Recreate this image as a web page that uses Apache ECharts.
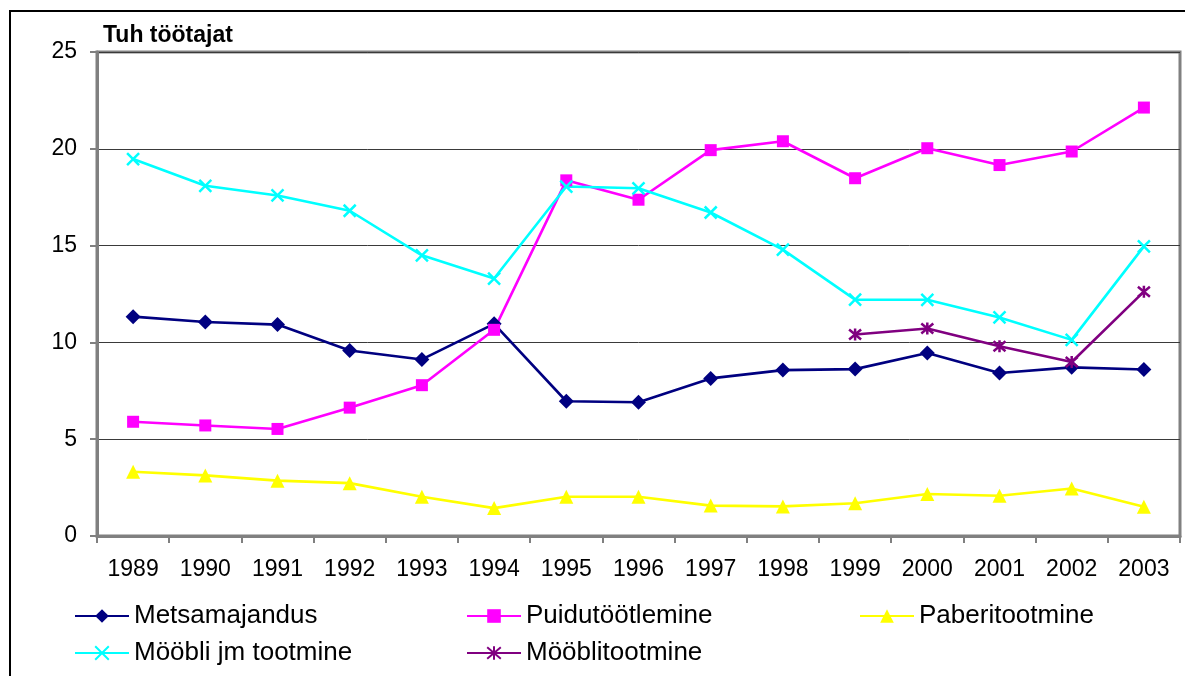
<!DOCTYPE html>
<html>
<head>
<meta charset="utf-8">
<script src="https://cdn.jsdelivr.net/npm/echarts@6/dist/echarts.min.js"></script>
<style>
  html, body { margin: 0; padding: 0; background: #fff; }
  #chart { width: 1185px; height: 676px; }
</style>
</head>
<body>
<div id="chart"></div>
<script>
const years = ['1989', '1990', '1991', '1992', '1993', '1994', '1995', '1996', '1997', '1998', '1999', '2000', '2001', '2002', '2003'];
const metsamajandus = [11.33, 11.05, 10.92, 9.58, 9.12, 10.96, 6.96, 6.91, 8.14, 8.57, 8.62, 9.45, 8.42, 8.71, 8.6];
const puidutootlemine = [5.9, 5.71, 5.53, 6.63, 7.79, 10.65, 18.37, 17.37, 19.93, 20.39, 18.48, 20.03, 19.16, 19.86, 22.13];
const paberitootmine = [3.32, 3.13, 2.86, 2.73, 2.03, 1.44, 2.03, 2.03, 1.57, 1.53, 1.69, 2.17, 2.08, 2.45, 1.51];
const mooblijm = [19.47, 18.09, 17.59, 16.8, 14.5, 13.3, 18.05, 17.96, 16.71, 14.79, 12.21, 12.2, 11.29, 10.13, 14.96];
const mooblitootmine = [null, null, null, null, null, null, null, null, null, null, 10.41, 10.72, 9.8, 8.99, 12.62];
const yTicks = [0, 5, 10, 15, 20, 25];

const font = 'Arial, "Liberation Sans", sans-serif';
const chart = echarts.init(document.getElementById('chart'));

const crossPath = 'path://M0,0L10,10M10,0L0,10';
const starPath = 'path://M0,0L10,10M10,0L0,10M5,-1L5,11';

const seriesDefs = [
  { name: 'Metsamajandus', data: metsamajandus, color: '#000080', symbol: 'diamond', size: 15 },
  { name: 'Puidutöötlemine', data: puidutootlemine, color: '#FF00FF', symbol: 'rect', size: 12 },
  { name: 'Paberitootmine', data: paberitootmine, color: '#FFFF00', symbol: 'triangle', size: 14 },
  { name: 'Mööbli jm tootmine', data: mooblijm, color: '#00FFFF', symbol: crossPath, size: 12, stroke: true },
  { name: 'Mööblitootmine', data: mooblitootmine, color: '#800080', symbol: starPath, size: 12, stroke: true }
];

const legendPos = [
  { left: 69, top: 598 },
  { left: 461, top: 598 },
  { left: 854, top: 598 },
  { left: 69, top: 635 },
  { left: 461, top: 635 }
];

const option = {
  animation: false,
  backgroundColor: '#fff',
  textStyle: { fontFamily: font },
  title: {
    text: 'Tuh töötajat',
    left: 98,
    top: 19,
    textStyle: { fontFamily: font, fontSize: 23, fontWeight: 'bold', color: '#000' }
  },
  graphic: [{
    type: 'rect',
    shape: { x: 10, y: 11, width: 1200, height: 700 },
    style: { fill: 'none', stroke: '#000', lineWidth: 2 },
    silent: true
  }],
  legend: seriesDefs.map((s, i) => ({
    data: [s.name],
    left: legendPos[i].left,
    top: legendPos[i].top,
    itemWidth: 54,
    itemHeight: 17,
    itemGap: 6,
    textStyle: { fontFamily: font, fontSize: 26, color: '#000' }
  })),
  grid: {
    left: 97,
    right: 5,
    top: 52,
    bottom: 140,
    show: true,
    borderColor: '#808080',
    borderWidth: 3
  },
  xAxis: {
    type: 'category',
    data: years,
    boundaryGap: true,
    axisLine: { lineStyle: { color: '#808080', width: 3 } },
    axisTick: { show: true, interval: 0, length: 7, lineStyle: { color: '#808080', width: 2 } },
    axisLabel: { interval: 0, color: '#000', fontSize: 23, fontFamily: font, margin: 22 },
    splitLine: { show: false }
  },
  yAxis: {
    type: 'value',
    min: yTicks[0],
    max: yTicks[yTicks.length - 1],
    interval: 5,
    axisLine: { show: true, lineStyle: { color: '#808080', width: 3 } },
    axisTick: { show: true, length: 7, lineStyle: { color: '#808080', width: 2 } },
    axisLabel: { color: '#000', fontSize: 23, fontFamily: font, margin: 20 },
    splitLine: { lineStyle: { color: '#3a3a3a', width: 1 } }
  },
  series: seriesDefs.map(s => ({
    name: s.name,
    type: 'line',
    data: s.data,
    symbol: s.symbol,
    symbolSize: s.size,
    showAllSymbol: true,
    lineStyle: { color: s.color, width: 2.6 },
    itemStyle: s.stroke
      ? { color: s.color, borderColor: s.color, borderWidth: 2.5 }
      : { color: s.color, borderWidth: 0 },
    emphasis: { disabled: true }
  }))
};

chart.setOption(option);
</script>
</body>
</html>
